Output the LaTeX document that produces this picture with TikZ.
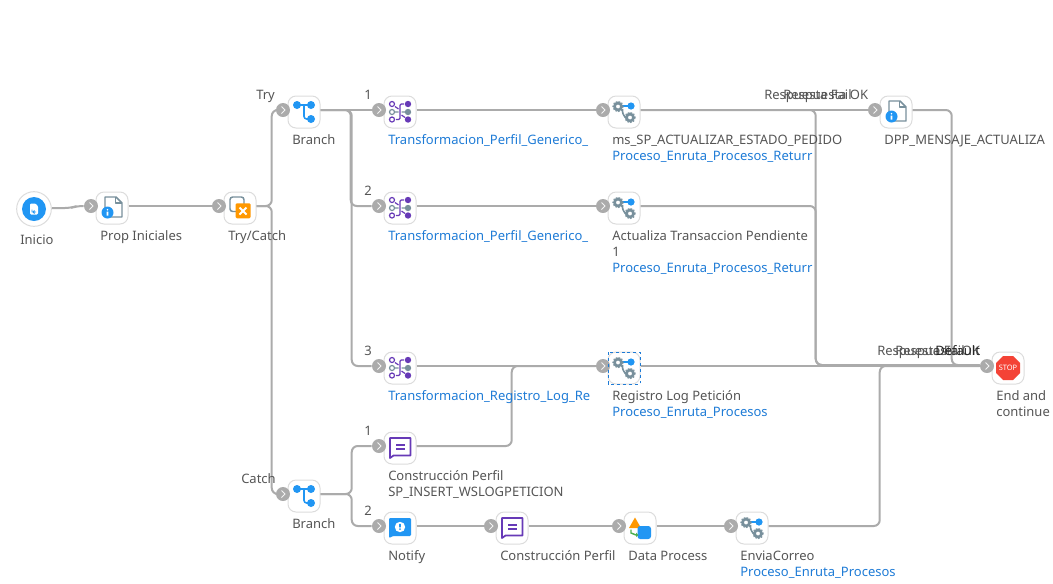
\documentclass[tikz,border=0pt]{standalone}
\usepackage{fontspec}
\setmainfont{Noto Sans}
\usetikzlibrary{positioning}

\definecolor{flowgray}{HTML}{ABABAB}
\definecolor{boxgray}{HTML}{DCDCDC}
\definecolor{txtgray}{HTML}{555555}
\definecolor{txtblue}{HTML}{1E7BD6}
\definecolor{icoblue}{HTML}{2196F3}
\definecolor{icopurple}{HTML}{673AB7}
\definecolor{icoslate}{HTML}{78909C}
\definecolor{icoorange}{HTML}{FF9800}
\definecolor{icored}{HTML}{F44336}
\definecolor{icogreen}{HTML}{4CAF50}

% one gear of the process icon
\newcommand{\gearat}[2]{
  \draw[icoslate,line width=2pt] (#1,#2) circle (3.5);
  \draw[icoslate,line width=.7pt,dash pattern=on 1.2pt off 1.1pt] (#1,#2) circle (5.2);
}

\tikzset{
  branchicon/.pic={
    \draw[icoblue,line width=1.2pt] (-7,-7) -- (7,-7);
    \draw[icoblue,line width=1.2pt,rounded corners=2pt] (0,-7) |- (7,7);
    \fill[icoblue] (-7,-7) circle (4) (7,-7) circle (4) (7,7) circle (4);
  },
  mapicon/.pic={
    \draw[icopurple,line width=.9pt,rounded corners=1pt] (-4,7.5) -- (0,7.5) -- (0,-8) -- (4,-8);
    \draw[icopurple,line width=.9pt] (-5,-5.5) -- (-1.5,-3) (1.5,3) -- (5,5.5);
    \draw[icopurple,line width=.9pt] (-8,-8) circle (2.5) (-8,7.5) circle (2.5);
    \draw[icoslate,line width=.9pt] (-8,0) circle (2.5) (-5,0) -- (-1.5,0) (1.5,0) -- (5,0);
    \fill[icopurple] (8,-8) circle (3.2) (8,7.5) circle (3.2);
    \fill[icoslate] (8,0) circle (3.2);
  },
  gearicon/.pic={
    \draw[icoslate,line width=1.2pt,rounded corners=2pt] (-1.5,-3) -- (-1.5,2) -- (3,7);
    \draw[icoblue,line width=1.2pt] (-2,-6) -- (6,-6);
    \gearat{-6}{-5.5}
    \gearat{6}{5.5}
    \fill[icoblue] (7,-6) circle (3.6);
  },
  propicon/.pic={
    \draw[icoslate,line width=1.1pt,line join=round] (-7,3) -- (-7,-11) -- (4,-11) -- (10,-5) -- (10,9) -- (-3,9);
    \draw[icoslate,line width=1.1pt,line join=round] (3.5,-11) -- (3.5,-5) -- (10,-5);
    \fill[icoblue] (-4.5,4.5) circle (6);
    \fill[white] (-4.5,1.7) circle (.9) (-5.3,3.5) rectangle (-3.7,7.7);
  },
  tryicon/.pic={
    \draw[icoslate,line width=1.1pt,rounded corners=2pt] (-10,3.5) rectangle (4,-11);
    \fill[icoorange,rounded corners=1pt] (-4.5,-4.7) rectangle (10.7,10.3);
    \draw[white,line width=1.4pt] (-.5,-.5) -- (6.5,6.5) (6.5,-.5) -- (-.5,6.5);
  },
  starticon/.pic={
    \fill[icoblue] (0,0) circle (12);
    \fill[white,rounded corners=.8pt] (-4,-5.5) -- (1.5,-5.5) -- (4,-3) -- (4,5.5) -- (-4,5.5) -- cycle;
    \draw[icoblue,line width=.7pt] (-2,.5) -- (-2,3) -- (2,3) (.5,1.5) -- (-.8,3) -- (.5,4.5);
  },
  stopicon/.pic={
    \fill[icored] (-5,-12) -- (5,-12) -- (12,-5) -- (12,5) -- (5,12) -- (-5,12) -- (-12,5) -- (-12,-5) -- cycle;
  },
  msgicon/.pic={
    \draw[icopurple,line width=1.3pt,line join=round] (-10,10) -- (-10,-10) -- (10.5,-10) -- (10.5,7.5) -- (-6.5,7.5) -- cycle;
    \draw[icopurple,line width=1.2pt] (-4,-3) -- (5,-3) (-4,.8) -- (5,.8);
  },
  notifyicon/.pic={
    \fill[icoblue,rounded corners=.8pt] (-11,10) -- (-11,-10) -- (11,-10) -- (11,8) -- (-7,8) -- cycle;
    \fill[white] (0,-1) circle (5.2);
    \fill[icoblue] (-.9,-4.2) rectangle (.9,-.6) (0,1.2) circle (1);
  },
  dataicon/.pic={
    \fill[icoorange] (-5,-10.5) -- (1,0) -- (-11,0) -- cycle;
    \fill[icoblue,rounded corners=2pt] (-2.5,-2) rectangle (11,11);
    \draw[icogreen,line width=1.1pt] (-9,1.5) to[out=90,in=180,looseness=0] (-9,5) -- (-4,7);
    \fill[icogreen] (-4,4.5) -- (-1.5,7) -- (-4,9) -- cycle;
  }
}

\begin{document}
\begin{tikzpicture}[x=.75pt,y=-.75pt,on grid]
  \tikzstyle{stepbox} = [draw=boxgray, fill=white, line width=.75pt, rectangle, rounded corners=6pt, minimum size=24pt, inner sep=0pt];
  \tikzstyle{startbox} = [draw=boxgray, fill=white, line width=.75pt, circle, minimum size=26pt, inner sep=0pt];
  \tikzstyle{chev} = [circle, fill=flowgray, minimum size=10.5pt, inner sep=0pt, path picture={\draw[white!85!flowgray,line width=.6pt] ([shift={(-1.5,-3.5)}]path picture bounding box.center) -- ++(3.5,3.5) -- ++(-3.5,3.5);}];
  \tikzstyle{flow} = [draw=flowgray, line width=1.5pt, rounded corners=4.5pt];
  \tikzstyle{lbl} = [anchor=base west, inner sep=0pt, text=txtgray, font={\fontsize{9.75}{11}\selectfont}];
  \tikzstyle{lnk} = [lbl, text=txtblue];

  \useasboundingbox (0,0) rectangle (1053,583);

  \node[startbox](inicio) at (34,209) {};
  \node[stepbox](prop) at (112,208) {};
  \node[stepbox](try) [right=96pt of prop] {};
  \node[stepbox](branchA) [above right=72pt and 48pt of try] {};
  \node[stepbox](mapA) [right=72pt of branchA] {};
  \node[stepbox](procA) [right=168pt of mapA] {};
  \node[stepbox](dpp) [right=204pt of procA] {};
  \node[stepbox](mapB) [below=72pt of mapA] {};
  \node[stepbox](procB) [right=168pt of mapB] {};
  \node[stepbox](mapC) [below=120pt of mapB] {};
  \node[stepbox](procC) [right=168pt of mapC] {};
  \node[stepbox](stop) [right=288pt of procC] {};
  \node[stepbox](msgA) [below=60pt of mapC] {};
  \node[stepbox](notify) [below=60pt of msgA] {};
  \node[stepbox](branchB) [above left=24pt and 72pt of notify] {};
  \node[stepbox](msgB) [right=84pt of notify] {};
  \node[stepbox](data) [right=96pt of msgB] {};
  \node[stepbox](envia) [right=84pt of data] {};

  % the grey entry marks
  \foreach \n in {prop,try,branchA,mapA,procA,dpp,mapB,procB,mapC,procC,stop,msgA,notify,branchB,msgB,data,envia}
    \node[chev] (\n-in) at ([shift={(-21,-2)}]\n.center) {};

  \pic at (inicio.center) {starticon};
  \pic at (prop.center) {propicon};
  \pic at (dpp.center) {propicon};
  \pic at (try.center) {tryicon};
  \pic at (branchA.center) {branchicon};
  \pic at (branchB.center) {branchicon};
  \pic at (mapA.center) {mapicon};
  \pic at (mapB.center) {mapicon};
  \pic at (mapC.center) {mapicon};
  \pic at (procA.center) {gearicon};
  \pic at (procB.center) {gearicon};
  \pic at (procC.center) {gearicon};
  \pic at (envia.center) {gearicon};
  \pic at (stop.center) {stopicon};
  \pic at (msgA.center) {msgicon};
  \pic at (msgB.center) {msgicon};
  \pic at (notify.center) {notifyicon};
  \pic at (data.center) {dataicon};
  \node[inner sep=0pt, text=white, font={\fontsize{5.6}{6}\selectfont\bfseries}] (stop-t) at (stop.center) {STOP};
  \draw[txtblue, line width=.6pt, dash pattern=on 2.2pt off 2.2pt] ([shift={(-16,-16)}]procC.center) rectangle ([shift={(16,16)}]procC.center);

  % connectors
  \draw[flow] ([yshift=.75pt]inicio.east) -- ++(19,0) -- ++(6,-2) -- (prop-in);
  \draw[flow] ([yshift=1.5pt]prop.east) -- (try-in);
  \draw[flow] ([yshift=1.5pt]try.east) -| ([xshift=-3pt]branchA-in.west) -- (branchA-in);
  \draw[flow] ([yshift=1.5pt]try.east) -| ([xshift=-3pt]branchB-in.west) -- (branchB-in);
  \draw[flow] ([yshift=1.5pt]branchA.east) -- (mapA-in);
  \draw[flow] ([yshift=1.5pt]branchA.east) -| ([xshift=-15.75pt]mapB-in.west) -- (mapB-in);
  \draw[flow] ([yshift=1.5pt]branchA.east) -| ([xshift=-15pt]mapC-in.west) -- (mapC-in);
  \draw[flow] ([yshift=1.5pt]mapA.east) -- (procA-in);
  \draw[flow] ([yshift=1.5pt]mapB.east) -- (procB-in);
  \draw[flow] ([yshift=1.5pt]mapC.east) -- (procC-in);
  \draw[flow] ([yshift=1.5pt]procA.east) -- (dpp-in);
  \draw[flow] ([yshift=1.5pt]procA.east) -| ([xshift=-123pt,yshift=.75pt]stop-in.west) -- ([yshift=.75pt]stop-in.west);
  \draw[flow] ([yshift=1.5pt]procB.east) -| ([xshift=-123pt,yshift=.75pt]stop-in.west) -- ([yshift=.75pt]stop-in.west);
  \draw[flow] ([yshift=1.5pt]dpp.east) -| ([xshift=-21pt,yshift=.75pt]stop-in.west) -- ([yshift=.75pt]stop-in.west);
  \draw[flow] ([yshift=1.5pt]procC.east) -- (stop-in);
  \draw[flow] ([yshift=1.5pt]envia.east) -| ([xshift=-75pt]stop-in.west) -- (stop-in);
  \draw[flow] ([yshift=1.5pt]msgA.east) -| ([xshift=-63pt]procC-in.west) -- (procC-in);
  \draw[flow] ([yshift=1.5pt]branchB.east) -| ([xshift=-15pt]msgA-in.west) -- (msgA-in);
  \draw[flow] ([yshift=1.5pt]branchB.east) -| ([xshift=-15pt]notify-in.west) -- (notify-in);
  \draw[flow] ([yshift=1.5pt]notify.east) -- (msgB-in);
  \draw[flow] ([yshift=1.5pt]msgB.east) -- (data-in);
  \draw[flow] ([yshift=1.5pt]data.east) -- (envia-in);

  % texts
  \node[lbl] (inicio-t) at ([shift={(-14,35)}]inicio.center) {Inicio};
  \node[lbl] (prop-t) at ([shift={(-12,32)}]prop.center) {Prop Iniciales};
  \node[lbl] (try-t) at ([shift={(-12,32)}]try.center) {Try/Catch};
  \node[lbl] (branchA-t) at ([shift={(-12,32)}]branchA.center) {Branch};
  \node[lbl] (branchB-t) at ([shift={(-12,32)}]branchB.center) {Branch};
  \node[lbl] (tryl) at ([shift={(-48,-13)}]branchA.center) {Try};
  \node[lbl] (catchl) at ([shift={(-63,-13)}]branchB.center) {Catch};
  \node[lbl] (mapA-n) at ([shift={(-36,-13)}]mapA.center) {1};
  \node[lbl] (mapB-n) at ([shift={(-36,-13)}]mapB.center) {2};
  \node[lbl] (mapC-n) at ([shift={(-36,-13)}]mapC.center) {3};
  \node[lbl] (msgA-n) at ([shift={(-36,-13)}]msgA.center) {1};
  \node[lbl] (notify-n) at ([shift={(-36,-13)}]notify.center) {2};
  \node[lnk] (mapA-t) at ([shift={(-12,32)}]mapA.center) {Transformacion\_Perfil\_Generico\_};
  \node[lnk] (mapB-t) at ([shift={(-12,32)}]mapB.center) {Transformacion\_Perfil\_Generico\_};
  \node[lnk] (mapC-t) at ([shift={(-12,32)}]mapC.center) {Transformacion\_Registro\_Log\_Re};
  \node[lbl] (procA-t) at ([shift={(-12,32)}]procA.center) {ms\_SP\_ACTUALIZAR\_ESTADO\_PEDIDO};
  \node[lnk] (procA-s) at ([shift={(-12,48)}]procA.center) {Proceso\_Enruta\_Procesos\_Returr};
  \node[lbl] (procB-t) at ([shift={(-12,32)}]procB.center) {Actualiza Transaccion Pendiente};
  \node[lbl] (procB-u) at ([shift={(-12,48)}]procB.center) {1};
  \node[lnk] (procB-s) at ([shift={(-12,64)}]procB.center) {Proceso\_Enruta\_Procesos\_Returr};
  \node[lbl] (procC-t) at ([shift={(-12,32)}]procC.center) {Registro Log Petición};
  \node[lnk] (procC-s) at ([shift={(-12,48)}]procC.center) {Proceso\_Enruta\_Procesos};
  \node[lbl] (dpp-t) at ([shift={(-12,32)}]dpp.center) {DPP\_MENSAJE\_ACTUALIZA};
  \node[lbl] (dpp-f) at ([shift={(-132,-13)}]dpp.center) {Respuesta Fail};
  \node[lbl] (dpp-o) at ([shift={(-113,-13)}]dpp.center) {Respuesta OK};
  \node[lbl] (stop-f) at ([shift={(-131,-13)}]stop.center) {Respuesta Fail};
  \node[lbl] (stop-o) at ([shift={(-113,-13)}]stop.center) {Respuesta OK};
  \node[lbl, text=black!85] (stop-d) at ([shift={(-73,-13)}]stop.center) {Default};
  \node[lbl] (stop-a) at ([shift={(-12,32)}]stop.center) {End and};
  \node[lbl] (stop-b) at ([shift={(-12,48)}]stop.center) {continue};
  \node[lbl] (msgA-t) at ([shift={(-12,32)}]msgA.center) {Construcción Perfil};
  \node[lbl] (msgA-u) at ([shift={(-12,48)}]msgA.center) {SP\_INSERT\_WSLOGPETICION};
  \node[lbl] (notify-t) at ([shift={(-12,32)}]notify.center) {Notify};
  \node[lbl] (msgB-t) at ([shift={(-12,32)}]msgB.center) {Construcción Perfil};
  \node[lbl] (data-t) at ([shift={(-12,32)}]data.center) {Data Process};
  \node[lbl] (envia-t) at ([shift={(-12,32)}]envia.center) {EnviaCorreo};
  \node[lnk] (envia-s) at ([shift={(-12,48)}]envia.center) {Proceso\_Enruta\_Procesos};
\end{tikzpicture}
\end{document}
